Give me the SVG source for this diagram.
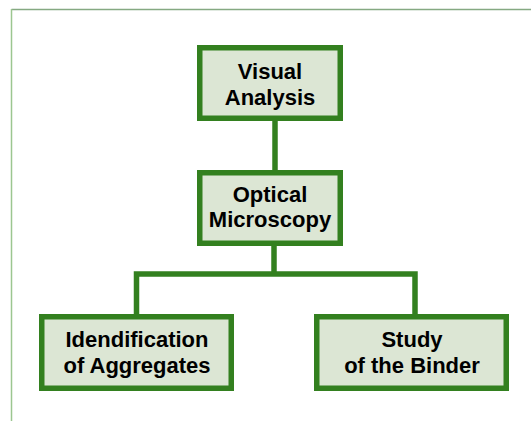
<svg xmlns="http://www.w3.org/2000/svg" width="531" height="421" viewBox="0 0 531 421">
<style>
.box{fill:#dce6d4;stroke:#33801f;stroke-width:5.5}
.lbl{font-family:"Liberation Sans",Arial,sans-serif;font-weight:bold;font-size:22px;fill:#000;text-anchor:middle}
.conn{fill:none;stroke:#33801f;stroke-width:5.5}
</style>
<rect width="531" height="421" fill="#ffffff"/>
<g id="frame">
<line x1="11.5" y1="9.5" x2="531" y2="9.5" stroke="#85a982" stroke-width="1.5"/>
<line x1="11.5" y1="9" x2="11.5" y2="421" stroke="#9cc690" stroke-width="1.5"/>
</g>
<g id="connectors">
<line class="conn" x1="275" y1="121" x2="275" y2="170"/>
<line class="conn" x1="274" y1="246" x2="274" y2="274"/>
<polyline class="conn" points="136.5,314 136.5,274 415,274 415,314"/>
</g>
<g id="visual-analysis">
<rect class="box" x="199.75" y="47.75" width="140.5" height="70.5"/>
<text class="lbl" x="270" y="78.5">Visual</text>
<text class="lbl" x="270" y="104.5">Analysis</text>
</g>
<g id="optical-microscopy">
<rect class="box" x="199.75" y="172.75" width="140.5" height="70.5"/>
<text class="lbl" x="270" y="201.5">Optical</text>
<text class="lbl" x="270" y="227">Microscopy</text>
</g>
<g id="identification">
<rect class="box" x="41.75" y="316.75" width="189.5" height="71.5"/>
<text class="lbl" x="137" y="347">Idendification</text>
<text class="lbl" x="137" y="373">of Aggregates</text>
</g>
<g id="binder">
<rect class="box" x="316.75" y="316.75" width="189.5" height="71.5"/>
<text class="lbl" x="412" y="347">Study</text>
<text class="lbl" x="412" y="373">of the Binder</text>
</g>
</svg>
